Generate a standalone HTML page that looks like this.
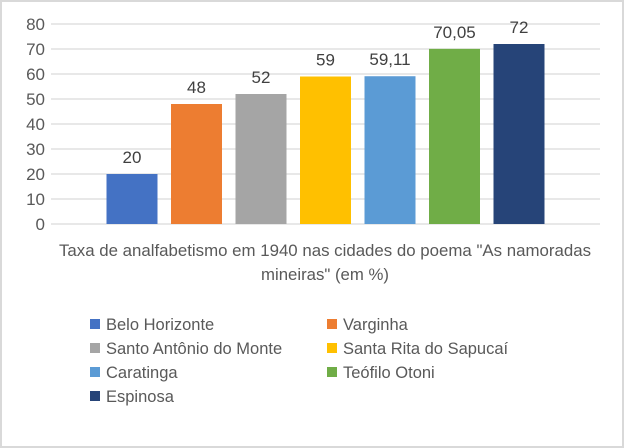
<!DOCTYPE html>
<html><head><meta charset="utf-8"><style>
body{margin:0;width:624px;height:448px;overflow:hidden;background:#fff;font-family:"Liberation Sans",sans-serif}
#frame{position:absolute;left:0;top:0;width:620px;height:444px;border:2px solid #d9d9d9}
</style></head><body>
<div id="frame"></div>
<svg id="c" width="624" height="448" style="position:absolute;left:0;top:0"></svg>
<script>
const categories=["Belo Horizonte","Varginha","Santo Antônio do Monte","Santa Rita do Sapucaí","Caratinga","Teófilo Otoni","Espinosa"];
const values=[20,48,52,59,59.11,70.05,72];
const valueLabels=["20","48","52","59","59,11","70,05","72"];
const colors=["#4472c4","#ed7d31","#a5a5a5","#ffc000","#5b9bd5","#70ad47","#264478"];
const yTicks=[0,10,20,30,40,50,60,70,80];
const NS="http://www.w3.org/2000/svg";
const svg=document.getElementById('c');
const y0=224,yTop=24,yMax=80,px0=51,px1=600;
const y=v=>y0-(v/yMax)*(y0-yTop);
const step=64.5,bw=51,groupLeft=(px0+px1)/2-(step*(categories.length-1)+bw)/2;
const x=i=>groupLeft+i*step;
function mk(t,a){const e=document.createElementNS(NS,t);for(const k in a)e.setAttribute(k,a[k]);svg.appendChild(e);return e;}
yTicks.forEach(t=>{
  const g=mk('line',{x1:px0,x2:px1,y1:y(t),y2:y(t),stroke:'#d9d9d9','stroke-width':1.2});
  
  
  const l=mk('text',{x:45,y:y(t)+6,'text-anchor':'end','font-size':17,fill:'#595959'});
  l.textContent=t;
  
  
});
values.forEach((v,i)=>{
  const r=mk('rect',{x:x(i),y:y(v),width:bw,height:y0-y(v),fill:colors[i]});
  
  
  const t=mk('text',{x:x(i)+bw/2,y:y(v)-11,'text-anchor':'middle','font-size':17,fill:'#404040'});
  t.textContent=valueLabels[i];
  
  
});
[["Taxa de analfabetismo em 1940 nas cidades do poema \"As namoradas",256,532],["mineiras\" (em %)",280,128]].forEach((s,k)=>{
  const t=mk('text',{x:325,y:s[1],'text-anchor':'middle','font-size':16.5,fill:'#595959',textLength:s[2],lengthAdjust:'spacingAndGlyphs'});
  t.textContent=s[0];
  
  
});
categories.forEach((c,i)=>{
  const col=i%2,row=Math.floor(i/2);
  const lx=col?327:90,ly=324+row*24;
  const s=mk('rect',{x:lx,y:ly-5,width:10,height:10,fill:colors[i]});
  
  
  const t=mk('text',{x:lx+16,y:ly+6,'font-size':16.5,fill:'#595959'});
  t.textContent=c;
  
  
});
</script>
</body></html>
